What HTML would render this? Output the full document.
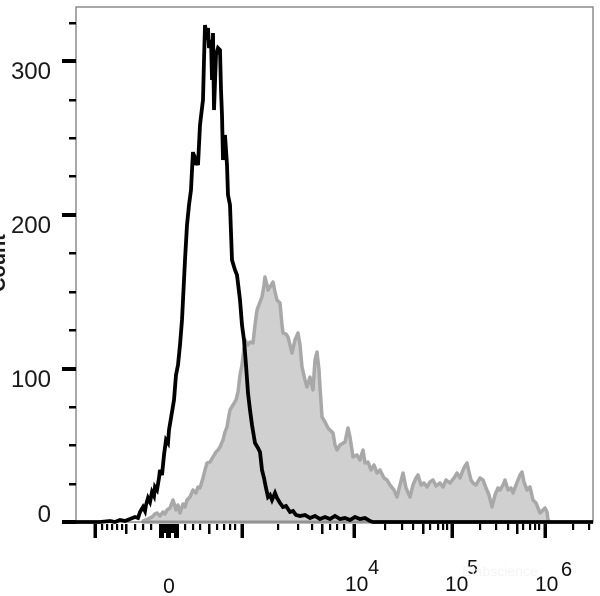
<!DOCTYPE html>
<html><head><meta charset="utf-8"><style>
html,body{margin:0;padding:0;background:#fff;}
svg{display:block;}
</style></head><body>
<svg width="600" height="596" viewBox="0 0 600 596" xmlns="http://www.w3.org/2000/svg" font-family="Liberation Sans, Arial, sans-serif">
<rect width="600" height="596" fill="#fff"/>
<polygon fill="#d0d0d0" stroke="#a8a8a8" stroke-width="3.5" stroke-linejoin="round" points="143,521 148,519 152,517 155,514 157,513 160,516 163,512 165,514 167,510 170,508 173,500 176,510 178,505 180,513 183,504 185,507 187,500 190,497 193,490 196,493 198,487 200,488 203,478 205,470 207,463 210,462 213,457 216,452 218,450 220,447 223,440 225,432 227,427 229,415 230,410 233,405 236,400 238,392 240,375 242,365 245,340 248,345 250,342 253,343 255,325 257,310 260,302 262,297 264,285 265,277 267,285 268,290 270,287 273,282 275,292 277,300 280,303 282,325 283,333 286,334 288,337 290,345 292,353 295,340 298,333 300,345 302,367 305,380 307,387 310,377 313,390 315,360 317,352 319,370 320,387 322,417 325,422 328,428 333,433 335,445 337,450 340,445 345,442 348,428 350,437 353,457 357,455 360,460 363,450 365,463 368,462 371,470 374,465 377,473 380,470 384,478 387,480 390,485 394,490 397,497 400,485 403,473 406,488 410,497 413,485 416,478 418,475 421,485 424,483 427,487 430,482 433,480 436,486 440,483 443,487 446,480 450,483 454,478 457,473 460,478 463,470 465,466 467,463 469,472 471,480 473,483 476,485 480,478 483,480 486,488 489,495 492,507 495,495 498,488 500,490 503,485 505,480 508,490 511,488 513,493 516,485 518,480 520,475 522,472 524,482 527,490 530,487 533,500 536,503 540,513 543,510 545,508 547,512 548,520 550,522 143,522"/>
<rect x="76" y="7" width="517" height="515" fill="none" stroke="#8c8c8c" stroke-width="1.5"/>
<polyline fill="none" stroke="#000" stroke-width="3.8" stroke-linejoin="miter" points="76,522 100,522 110,521 115,522 120,520 125,521 130,519 135,517 138,518 140,512 143,507 145,511 146,505 148,498 150,502 152,492 154,496 155,487 157,490 159,478 160,470 162,475 164,455 166,440 168,443 169,430 172,412 174,400 176,375 178,365 180,345 182,320 183,300 185,260 187,225 189,205 191,190 192,170 193,152 195,165 196,160 198,165 200,125 202,108 203,100 204,60 205,25 207,40 208,28 209,48 211,40 212,80 213,33 214,110 216,55 218,48 220,50 221,90 222,115 223,160 225,135 227,165 228,195 230,205 232,260 235,270 237,275 240,300 242,325 244,340 246,365 248,393 250,410 252,425 255,443 258,448 260,452 262,470 264,478 266,488 268,497 270,495 272,500 275,493 277,498 280,503 283,507 286,506 290,512 293,511 296,515 300,516 305,515 310,518 315,516 320,519 325,517 330,519 335,516 340,519 345,518 350,520 355,517 360,519 365,518 370,521 373,522 593,522"/>
<g fill="#000">
<rect x="62" y="59" width="14" height="4"/>
<rect x="62" y="213" width="14" height="4"/>
<rect x="62" y="367" width="14" height="4"/>
<rect x="62" y="520" width="14" height="4"/>
<rect x="69" y="22" width="7" height="2.5"/>
<rect x="69" y="99" width="7" height="2.5"/>
<rect x="69" y="137" width="7" height="2.5"/>
<rect x="69" y="175" width="7" height="2.5"/>
<rect x="69" y="252" width="7" height="2.5"/>
<rect x="69" y="291" width="7" height="2.5"/>
<rect x="69" y="329" width="7" height="2.5"/>
<rect x="69" y="406" width="7" height="2.5"/>
<rect x="69" y="444" width="7" height="2.5"/>
<rect x="69" y="483" width="7" height="2.5"/>
</g>
<g fill="#000">
<rect x="93.5" y="524" width="3.5" height="14"/>
<rect x="240.5" y="524" width="3.5" height="14"/>
<rect x="352.5" y="524" width="3.5" height="14"/>
<rect x="450.5" y="524" width="3.5" height="14"/>
<rect x="543.5" y="524" width="3.5" height="14"/>
<rect x="125" y="524" width="2.5" height="10"/>
<rect x="208" y="524" width="2.5" height="10"/>
<rect x="321" y="524" width="2.5" height="10"/>
<rect x="422" y="524" width="2.5" height="10"/>
<rect x="516" y="524" width="2.5" height="10"/>
<rect x="101" y="524" width="2.2" height="6"/>
<rect x="106" y="524" width="2.2" height="6"/>
<rect x="111" y="524" width="2.2" height="6"/>
<rect x="116" y="524" width="2.2" height="6"/>
<rect x="121" y="524" width="2.2" height="6"/>
<rect x="134" y="524" width="2.2" height="6"/>
<rect x="142" y="524" width="2.2" height="6"/>
<rect x="150" y="524" width="2.2" height="6"/>
<rect x="184" y="524" width="2.2" height="6"/>
<rect x="192" y="524" width="2.2" height="6"/>
<rect x="199" y="524" width="2.2" height="6"/>
<rect x="216" y="524" width="2.2" height="6"/>
<rect x="223" y="524" width="2.2" height="6"/>
<rect x="229" y="524" width="2.2" height="6"/>
<rect x="234" y="524" width="2.2" height="6"/>
<rect x="277" y="524" width="2.2" height="6"/>
<rect x="297" y="524" width="2.2" height="6"/>
<rect x="311" y="524" width="2.2" height="6"/>
<rect x="329" y="524" width="2.2" height="6"/>
<rect x="336" y="524" width="2.2" height="6"/>
<rect x="343" y="524" width="2.2" height="6"/>
<rect x="384" y="524" width="2.2" height="6"/>
<rect x="401" y="524" width="2.2" height="6"/>
<rect x="412" y="524" width="2.2" height="6"/>
<rect x="429" y="524" width="2.2" height="6"/>
<rect x="437" y="524" width="2.2" height="6"/>
<rect x="442" y="524" width="2.2" height="6"/>
<rect x="446" y="524" width="2.2" height="6"/>
<rect x="479" y="524" width="2.2" height="6"/>
<rect x="495" y="524" width="2.2" height="6"/>
<rect x="507" y="524" width="2.2" height="6"/>
<rect x="522" y="524" width="2.2" height="6"/>
<rect x="529" y="524" width="2.2" height="6"/>
<rect x="534" y="524" width="2.2" height="6"/>
<rect x="538" y="524" width="2.2" height="6"/>
<rect x="572" y="524" width="2.2" height="6"/>
<rect x="588" y="524" width="2.2" height="6"/>
<rect x="159" y="524" width="20" height="9"/>
<rect x="159" y="524" width="5" height="14"/>
<rect x="166" y="524" width="5" height="14"/>
<rect x="174" y="524" width="5" height="14"/>
</g>
<g font-size="24" fill="#1a1a1a" text-anchor="end">
<text x="51" y="79">300</text>
<text x="51" y="233">200</text>
<text x="51" y="387">100</text>
<text x="51" y="522">0</text>
</g>
<text transform="translate(5,263) rotate(-90)" text-anchor="middle" font-size="20" font-weight="bold" fill="#1a1a1a">Count</text>
<g font-size="21" fill="#111">
<text x="169" y="593" text-anchor="middle">0</text>
<text x="345" y="591">10</text>
<text x="368" y="574" font-size="20">4</text>
<text x="445" y="591">10</text>
<text x="467" y="574" font-size="20">5</text>
<text x="535" y="591">10</text>
<text x="561" y="576" font-size="20">6</text>
</g>
<text x="500" y="576" font-size="14" fill="#f4f4f4" text-anchor="middle">Elabscience</text>
</svg>
</body></html>
